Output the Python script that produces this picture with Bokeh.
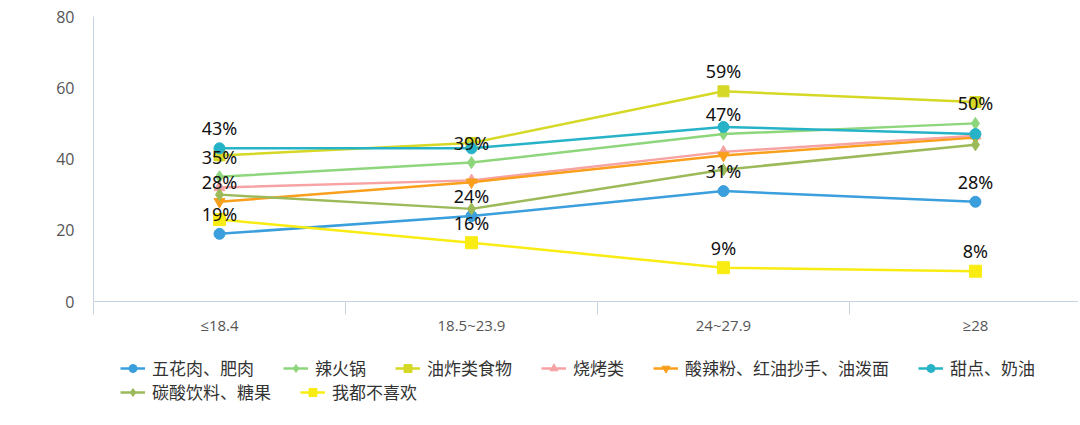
from bokeh.plotting import figure
from bokeh.layouts import column
from bokeh.models import (Range1d, FixedTicker, Legend, LegendItem, ColumnDataSource)
from bokeh.core.properties import value
from bokeh.embed import file_html
from bokeh.resources import INLINE

# ---- data ----
categories = ["≤18.4", "18.5~23.9", "24~27.9", "≥28"]
names = ["五花肉、肥肉", "辣火锅", "油炸类食物", "烧烤类",
         "酸辣粉、红油抄手、油泼面", "甜点、奶油", "碳酸饮料、糖果", "我都不喜欢"]
wuhua = [19, 24, 31, 28]
lahuoguo = [35, 39, 47, 50]
youzha = [41, 44.5, 59, 56]
shaokao = [32, 34, 42, 46.5]
suanla = [28, 33.5, 41, 46]
tiandian = [43, 43, 49, 47]
tansuan = [30, 26, 37, 44]
buxihuan = [23, 16.5, 9.5, 8.5]
series = [wuhua, lahuoguo, youzha, shaokao, suanla, tiandian, tansuan, buxihuan]

# visible data labels: (series index, category index, text)
label_series = [5, 1, 4, 0, 1, 0, 7, 2, 1, 0, 7, 1, 0, 7]
label_cats = [0, 0, 0, 0, 1, 1, 1, 2, 2, 2, 2, 3, 3, 3]
label_texts = ["43%", "35%", "28%", "19%", "39%", "24%", "16%",
               "59%", "47%", "31%", "9%", "50%", "28%", "8%"]

colors = ["#3a9fdc", "#8ed67c", "#d6d826", "#f7a2a3",
          "#f99f1c", "#27b3c7", "#9cba5a", "#f8ec12"]
markers = ["circle", "diamond", "square", "triangle",
           "inverted_triangle", "circle", "diamond", "square"]
msizes = [11, 12, 11, 11, 11, 11, 12, 12]

x = list(range(len(categories)))

W = 1078
p = figure(width=W, height=345, output_backend="svg", toolbar_location=None,
           x_range=Range1d(-0.5, 3.409), y_range=Range1d(0, 80),
           min_border_left=93, min_border_top=16, min_border_bottom=44,
           min_border_right=0)
p.outline_line_color = None
p.xgrid.grid_line_color = None
p.ygrid.grid_line_color = None
p.background_fill_color = "white"
p.border_fill_color = "white"

axis_color = "#c6d3e0"
p.xaxis.ticker = FixedTicker(ticks=x, minor_ticks=[-0.5, 0.5, 1.5, 2.5])
p.xaxis.major_label_overrides = {i: c for i, c in enumerate(categories)}
p.xaxis.axis_line_color = axis_color
p.xaxis.major_tick_line_color = None
p.xaxis.minor_tick_line_color = axis_color
p.xaxis.minor_tick_out = 13
p.xaxis.minor_tick_in = 0
p.xaxis.major_tick_out = 0
p.xaxis.major_label_standoff = 0
p.xaxis.major_label_text_font = "Open Sans"
p.xaxis.major_label_text_font_size = "15px"
p.xaxis.major_label_text_color = "#555555"

p.yaxis.ticker = FixedTicker(ticks=[0, 20, 40, 60, 80])
p.yaxis.axis_line_color = axis_color
p.yaxis.major_tick_line_color = None
p.yaxis.minor_tick_line_color = None
p.yaxis.major_tick_out = 0
p.yaxis.major_label_standoff = 19
p.yaxis.major_label_text_font = "Open Sans"
p.yaxis.major_label_text_font_size = "16px"
p.yaxis.major_label_text_color = "#555555"

for vals, col, mk, ms in zip(series, colors, markers, msizes):
    src = ColumnDataSource(dict(x=x, y=vals))
    p.line("x", "y", source=src, line_color=col, line_width=2.5)
    p.scatter("x", "y", source=src, marker=mk, size=ms,
              fill_color=col, line_color=col)

lab_src = ColumnDataSource(dict(
    x=[x[c] for c in label_cats],
    y=[series[s][c] for s, c in zip(label_series, label_cats)],
    t=label_texts))
p.text("x", "y", text="t", source=lab_src, y_offset=-20,
       text_align="center", text_baseline="middle",
       text_font=value("Noto Sans"), text_font_size="18px", text_color="#111111")

# ---- legend strip (same series, drawn out of view; only the legend shows) ----
LH = 64
lf = figure(width=W, height=LH, output_backend="svg", toolbar_location=None,
            x_range=Range1d(0, 1), y_range=Range1d(1000, 1001),
            min_border=0, min_border_left=0, min_border_right=0,
            min_border_top=0, min_border_bottom=0)
lf.axis.visible = False
lf.grid.visible = False
lf.outline_line_color = None
lf.background_fill_color = "white"
lf.border_fill_color = "white"

items = []
for i, (vals, col, mk, ms) in enumerate(zip(series, colors, markers, msizes)):
    src = ColumnDataSource(dict(x=x, y=vals))
    ln = lf.line("x", "y", source=src, line_color=col, line_width=2.5)
    sc = lf.scatter("x", "y", source=src, marker=mk, size=ms - 1,
                    fill_color=col, line_color=col)
    items.append(LegendItem(label=names[i], renderers=[ln, sc]))

def make_legend(its, loc):
    return Legend(items=its, location=loc, orientation="horizontal",
                  glyph_width=25, glyph_height=20, label_height=20,
                  label_standoff=7, spacing=29, padding=0, margin=0,
                  border_line_color=None, background_fill_alpha=0,
                  label_text_font="Noto Sans CJK SC", label_text_font_size="17px",
                  label_text_color="#333333")

lf.add_layout(make_legend(items[:6], (27, 29)))
lf.add_layout(make_legend(items[6:], (27, 5)))

open("out.html", "w").write(file_html(column(p, lf), INLINE))
